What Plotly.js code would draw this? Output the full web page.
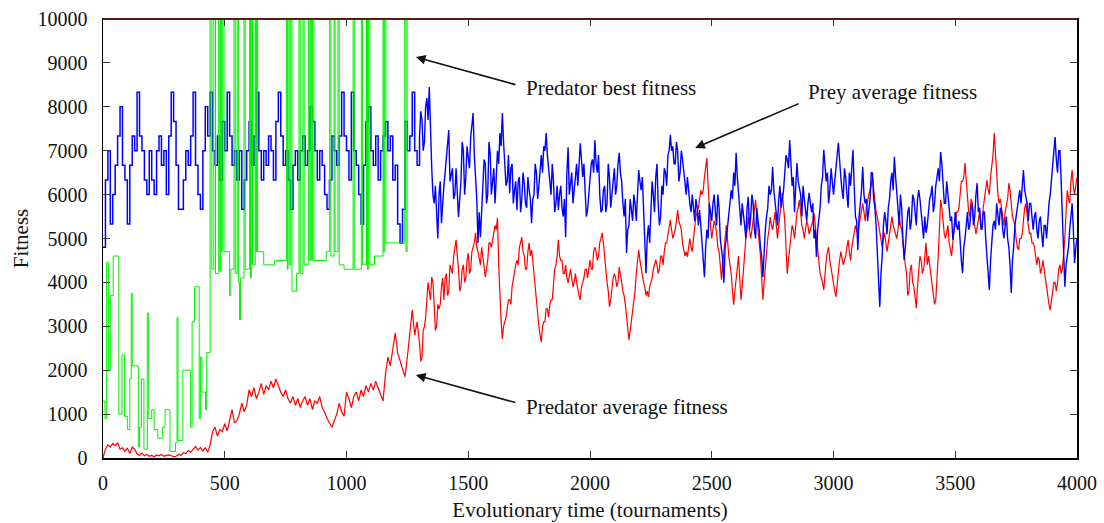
<!DOCTYPE html>
<html>
<head>
<meta charset="utf-8">
<script src="https://cdn.plot.ly/plotly-3.0.1.min.js"></script>
<style>html,body{margin:0;padding:0;background:#fff;}#chart{width:1104px;height:523px;}</style>
</head>
<body>
<div id="chart"></div>
<script>
// Tournament sampling step for the average-fitness series
const sampleStep = 10;
// Up to this tournament the prey average takes discrete levels (drawn as steps)
const stepPhaseEnd = 1300;

// Prey average fitness (blue), sampled every 10 tournaments from 0 to 4000
const preyAverage = [
4800,6333,7000,5333,6000,6667,7333,8000,6667,6333,
5333,6667,7333,7000,8333,7333,7000,6333,6000,7000,
6333,6000,7000,7333,6667,7000,6000,7333,8333,7667,
6667,5667,5667,6333,7000,6667,7333,8333,6667,6000,
5667,7000,8000,7333,8333,7000,6667,7333,6333,7667,
7000,8333,7333,6667,7000,6333,7000,5667,6333,7000,
7667,6667,7333,8333,7000,6333,7000,6667,7333,7000,
6333,7667,8333,7333,6667,7000,6333,5667,6667,7000,
6333,7000,7333,6667,7000,8000,7667,7000,6333,7000,
6667,6000,5667,6333,7333,7000,6667,7333,8333,7333,
7000,6333,8333,7000,6667,6000,5333,6667,7667,8000,
7000,6667,7333,6333,7000,7333,7667,7000,7333,6333,
6667,5333,4900,5667,7667,7000,7333,8333,7000,6667,
7333,7700,7200,8200,8450,6600,5800,5400,6000,5350,
6200,6900,7470,6500,5900,6600,5490,6300,7000,6400,
6900,7300,7860,6500,4900,5030,6200,6700,6000,6950,
6300,5800,7000,7400,7860,6800,6300,6030,6700,6100,
5650,6400,5900,6260,5700,6100,5350,6000,6500,6200,
6900,7100,7400,6600,6000,6300,5800,5650,6200,5500,
5030,7080,6200,5800,6500,6200,7170,6400,6000,5650,
6300,6800,7240,6500,6000,5650,6200,5800,6400,6000,
6600,6200,6950,6300,5500,4670,5300,5650,6000,5400,
6560,6100,5500,4210,5300,5800,6000,6400,5800,5500,
6000,6500,6900,7360,7100,6700,7000,6500,6800,6200,
6400,5800,6000,5400,5700,5650,4900,4120,5200,5800,
5400,6000,5300,5700,4700,3990,5000,5600,6100,6500,
6950,6000,5300,5600,5000,5950,5500,5800,5000,5400,
4800,4120,5200,5700,6000,6630,5800,5300,6200,5900,
6500,6800,7240,6200,5600,6720,6100,5500,5900,5400,
6040,5600,5000,4580,5500,6200,7020,6300,5800,6600,
6000,6700,7180,6400,5900,6400,5700,6200,7020,5500,
4740,5800,6630,5800,5400,5900,6490,5700,4700,3440,
4600,5600,5100,5900,6500,6860,6000,5300,5700,4510,
5200,5720,5400,5900,5300,6100,5600,5000,5130,5600,
6000,5600,6200,6600,6970,6200,5800,6000,5400,4970,
5600,5200,4800,4210,5000,5600,5300,5800,5500,6260,
5700,5200,5600,4600,3830,4900,5400,5800,5300,5600,
5000,5500,4800,3760,4800,5500,6000,5800,6560,5900,
5400,5800,5200,5600,5000,5500,4800,5300,5420,6000,
6600,7310,6500,7000,5600,3900,4600,5200,5800,4440,
5000
];

// Prey average fitness at the in-between tournaments 1305, 1315, ... 3995
const preyAverageMid = [
7900,7000,8000,7700,7200,6000,6200,5000,6300,5900,
6500,7200,6300,6600,6000,6100,5900,7200,6000,7100,
6600,7700,6900,5900,5600,5500,6800,5800,7200,6000,
6600,6400,6700,7100,7200,6200,6900,6600,5800,6300,
6300,5600,6500,5800,6400,5900,5900,6700,5900,6500,
6500,7000,6900,6300,6700,5600,6200,6000,5700,5900,
6500,6000,6500,6100,6700,6600,6800,6700,5500,6000,
6700,6500,6700,6900,5600,6100,5600,6700,5700,6300,
6000,6700,6500,5800,5900,5200,5900,5400,5800,6100,
6300,6400,5000,5000,4900,6300,5600,6700,5300,6200,
6600,6200,7000,7000,6700,7200,6300,7000,6500,6000,
6000,5600,5700,5900,5300,5300,4600,4800,5000,5600,
5800,5600,6000,5000,4500,4800,5300,5900,5900,6200,
6400,5700,5800,5300,5700,5200,6000,5200,5700,5200,
4600,4800,5500,6200,6100,6100,5500,5900,5700,6100,
6900,6600,6800,6400,6200,6300,6000,6200,5700,5800,
5800,5800,5200,5200,5700,6400,6500,6500,6100,6300,
6300,6900,6700,6100,6600,6000,6500,6600,6200,5400,
5500,6100,6000,5900,5600,6500,5900,5300,4200,4200,
5300,5400,5700,6300,6100,6400,5700,6000,5000,4800,
5600,5200,6000,5600,5900,5900,5400,5500,5300,5900,
6200,5800,6400,6300,6700,5800,6300,5600,5500,5200,
5300,5400,4500,4800,5400,5200,5700,5300,6000,5600,
5300,5600,5000,4400,4500,5300,5200,5600,5700,5200,
5300,5000,4400,4500,5300,5700,6100,6300,6100,5800,
5800,5400,5500,5200,5400,5100,5300,5000,5800,6300,
7000,6800,7000,6300,4600,4400,4800,5600,5200,4800
];

// Predator average fitness (red), sampled every 10 tournaments from 0 to 4000
const predatorAverage = [
0,200,300,250,330,280,350,200,230,150,
220,100,250,200,90,60,110,50,80,40,
60,30,70,50,80,40,60,70,50,30,
40,80,60,120,100,170,130,210,260,180,
240,160,230,130,300,600,700,500,650,600,
780,620,900,1100,800,850,1000,1250,1050,1200,
1550,1400,1600,1350,1500,1700,1450,1650,1550,1750,
1600,1800,1650,1500,1400,1550,1350,1250,1400,1200,
1350,1150,1300,1400,1200,1350,1100,1300,1250,1400,
1150,1050,900,800,700,850,1000,1250,1050,950,
1500,1350,1150,1400,1500,1300,1550,1400,1650,1500,
1700,1550,1750,1600,1450,1300,1900,2300,2100,2500,
2850,2400,2200,2050,1850,2300,2900,3370,2800,3100,
2600,2300,3000,3600,3800,4120,3500,3000,3400,3900,
3600,4200,3800,4300,4600,4970,4300,3900,4400,4100,
4670,4300,4800,5130,4700,4400,4600,4120,4500,4900,
5000,5300,5470,3600,2710,3100,3400,3600,3900,4200,
4500,4800,5030,4600,4300,4900,4740,4200,3500,3000,
2640,3100,3400,3200,3600,3900,4400,4970,4500,4200,
4400,3990,4300,3900,4200,3800,3600,4000,4300,4100,
4510,4300,4800,4500,4900,5130,4600,4000,3440,3900,
4200,3900,4350,4000,3700,3200,2690,3100,3600,4200,
4740,4300,4000,3700,3670,4000,4300,4510,4200,4600,
4400,4900,5100,5420,5000,5200,5650,5300,4900,4600,
4580,5000,4700,5300,5600,5900,6000,6400,6830,5600,
5000,5400,5130,4700,4060,4800,5300,4600,4200,3490,
4100,4600,3600,4300,5000,5490,5000,5400,5880,5200,
4600,3600,4400,5000,5490,5200,5600,5000,5600,6040,
5400,4200,4800,5300,5000,5600,5880,5300,5000,5400,
5100,5300,5580,5000,4400,4100,3830,4500,4800,4300,
4000,3670,4300,4700,4400,4600,4970,4500,5000,5300,
5100,5500,5800,5400,5900,6100,6400,5800,5500,5200,
4800,5130,4700,5100,5500,5200,5000,5490,5200,4600,
4200,3800,4400,3900,3420,4200,4500,4300,4900,4600,
4200,3800,3600,4600,5880,5400,5000,5300,4700,4900,
5300,5600,6000,6300,6720,6000,5500,5800,5300,5260,
5600,5300,5900,6330,6000,6600,7400,6500,5800,5650,
5300,5800,6260,5800,5400,5000,4740,5000,5400,5800,
5300,5130,4900,4600,4580,4200,4500,4000,3700,3370,
3800,4000,3990,4400,4300,5000,6100,5800,6560,6000,
6400
];

// Predator average fitness at the in-between tournaments 1305, 1315, ... 3995
const predatorAverageMid = [
2200,2900,3200,4000,3600,4000,2900,3500,3500,4100,
4100,3700,4400,4200,4800,4600,3800,4300,4000,4500,
4200,4700,4900,4800,4500,4800,4300,4300,4900,4800,
5200,5200,4400,3100,3000,3200,3600,3500,4100,4400,
4400,4900,4700,4300,4700,4600,4500,3900,3300,2800,
3000,3100,3400,3500,3600,4300,4600,4600,4500,4200,
4100,4200,4100,4000,4000,3700,3900,4100,4300,4300,
4300,4700,4700,4600,5000,4900,4200,3800,3600,4100,
4100,4000,4200,3800,3500,3000,2900,3400,3800,4500,
4500,4100,3900,3800,3900,4100,4400,4400,4300,4600,
4700,4900,5300,5200,5100,5400,5400,5200,4700,4700,
4800,4800,5000,5500,5700,6100,6100,6600,6200,5300,
5200,5300,4800,4400,4400,5000,4900,4400,3800,3800,
4300,4100,3900,4700,5200,5200,5200,5600,5500,4900,
4100,4000,4700,5200,5300,5400,5300,5300,5800,5700,
4800,4500,5000,5200,5300,5700,5600,5200,5200,5300,
5200,5400,5300,4700,4200,4000,4200,4700,4500,4100,
3800,4000,4500,4500,4500,4800,4700,4800,5100,5200,
5300,5600,5600,5700,6000,6200,6100,5600,5300,5000,
5000,4900,4900,5300,5300,5100,5200,5300,4900,4400,
3700,4300,4000,3700,3900,4600,4200,4700,4400,4400,
3900,3500,4300,5200,5700,5100,5200,4900,4600,5200,
5600,5700,6300,6400,6300,5600,5900,5400,5100,5500,
5200,5700,6200,6100,6400,6900,6800,6000,5900,5400,
5600,5900,6100,5500,5300,4800,5000,5100,5700,5500,
5100,4900,4800,4400,4500,4300,4300,3900,3500,3600,
4000,3800,4300,4200,4600,5600,5900,6300,6200,6200
];

// Predator best fitness (green), a step series: tournament of each change and the new value
const bestTournament = [
0,8,15,22,30,42,65,78,88,100,110,116,120,145,150,158,168,182,188,200,210,225,245,255,275,298,
304,308,328,355,360,366,376,395,400,406,421,426,440,
447,455,462,475,480,483,487,492,497,520,525,538,543,551,556,561,565,579,584,
602,606,609,614,625,628,630,635,660,705,753,757,760,765,771,776,795,805,810,
821,826,843,847,853,857,860,866,917,931,936,949,953,965,970,990,1027,1032,
1061,1066,1082,1086,1091,1096,1115,1150,1153,1157,1162,1239,1244,1249,4000
];
const bestFitness = [
1300,900,4450,2000,3700,4600,1000,2350,950,650,1800,3750,2100,250,700,1800,200,3300,900,1100,650,450,700,1100,150,350,
3200,400,2000,2000,700,3100,3900,900,2300,1500,1100,2400,10000,
4300,10000,4200,10000,4250,10000,4700,10000,4700,3700,4300,10000,4200,10000,4000,3150,4100,10000,4300,
10000,4100,10000,4400,10000,4700,10000,4700,4400,4500,10000,4300,10000,4400,10000,3800,4200,10000,4200,
10000,4400,10000,4500,10000,4500,10000,4500,4700,10000,4600,10000,4700,10000,4400,4300,10000,4300,
10000,4400,10000,4300,10000,4400,4600,10000,4700,10000,4900,10000,4700,10000,10000
];

const xTicks = [0,500,1000,1500,2000,2500,3000,3500,4000];
const yTicks = [0,1000,2000,3000,4000,5000,6000,7000,8000,9000,10000];

const labels = ["Predator best fitness", "Prey average fitness", "Predator average fitness"];

// ---- assemble point lists from the arrays above ----
const tournaments = preyAverage.map((_, i) => i * sampleStep);
const iSplit = tournaments.indexOf(stepPhaseEnd);

function mergeWithMid(main, mid) {
  const xs = [], ys = [];
  for (let i = iSplit; i < main.length; i++) {
    xs.push(tournaments[i]); ys.push(main[i]);
    const j = i - iSplit;
    if (j < mid.length) { xs.push(tournaments[i] + sampleStep / 2); ys.push(mid[j]); }
  }
  return {xs, ys};
}
const preyLate = mergeWithMid(preyAverage, preyAverageMid);
const predLate = mergeWithMid(predatorAverage, predatorAverageMid);

const predX = tournaments.slice(0, iSplit).concat(predLate.xs);
const predY = predatorAverage.slice(0, iSplit).concat(predLate.ys);

const serif = "Liberation Serif, Times New Roman, serif";

const traces = [
  {x: predX, y: predY, type: "scatter", mode: "lines",
   line: {color: "#ff0000", width: 1.2}, hoverinfo: "skip"},
  {x: tournaments.slice(0, iSplit + 1), y: preyAverage.slice(0, iSplit + 1), type: "scatter", mode: "lines",
   line: {color: "#0000ff", width: 1.5, shape: "hv"}, hoverinfo: "skip"},
  {x: preyLate.xs, y: preyLate.ys, type: "scatter", mode: "lines",
   line: {color: "#0000ff", width: 1.4}, hoverinfo: "skip"},
  {x: bestTournament, y: bestFitness, type: "scatter", mode: "lines",
   line: {color: "#00f000", width: 1, shape: "hv"}, hoverinfo: "skip"}
];

const axisCommon = {
  showgrid: false, zeroline: false, showline: true, mirror: "ticks",
  linecolor: "#000", linewidth: 1.5, ticks: "inside", ticklen: 7,
  tickcolor: "#333", tickwidth: 1,
  tickfont: {family: serif, size: 20, color: "#111"}
};

const layout = {
  width: 1104, height: 523,
  margin: {l: 103, r: 27, t: 19, b: 65},
  paper_bgcolor: "#fff", plot_bgcolor: "#fff",
  showlegend: false,
  xaxis: Object.assign({}, axisCommon, {
    range: [0, 4000], tickvals: xTicks, ticktext: xTicks.map(String), ticklabelstandoff: 6,
    title: {text: "Evolutionary time (tournaments)", font: {family: serif, size: 21, color: "#111"}, standoff: 10}
  }),
  yaxis: Object.assign({}, axisCommon, {
    range: [0, 10000], tickvals: yTicks, ticktext: yTicks.map(String), ticklabelstandoff: 10,
    title: {text: "Fitness", font: {family: serif, size: 21, color: "#111"}, standoff: 3}
  }),
  shapes: [
    {type: "line", xref: "paper", yref: "paper", x0: 0, x1: 1, y0: 1, y1: 1,
     line: {color: "#5a1a10", width: 2}, layer: "above"}
  ],
  annotations: [
    {x: 1285, y: 9134, ax: 101, ay: 28, text: "", showarrow: true,
     arrowhead: 2, arrowsize: 1.2, arrowwidth: 1.6, arrowcolor: "#111"},
    {x: 1729, y: 8428, text: labels[0], showarrow: false, xanchor: "left", yanchor: "middle",
     font: {family: serif, size: 21, color: "#111"}},
    {x: 2432, y: 7062, ax: 105, ay: -45, text: "", showarrow: true,
     arrowhead: 2, arrowsize: 1.2, arrowwidth: 1.6, arrowcolor: "#111"},
    {x: 2888, y: 8337, text: labels[1], showarrow: false, xanchor: "left", yanchor: "middle",
     font: {family: serif, size: 21, color: "#111"}},
    {x: 1285, y: 1891, ax: 101, ay: 28, text: "", showarrow: true,
     arrowhead: 2, arrowsize: 1.2, arrowwidth: 1.6, arrowcolor: "#111"},
    {x: 1729, y: 1162, text: labels[2], showarrow: false, xanchor: "left", yanchor: "middle",
     font: {family: serif, size: 21, color: "#111"}}
  ]
};

Plotly.newPlot("chart", traces, layout, {staticPlot: true, displayModeBar: false});
</script>
</body>
</html>
